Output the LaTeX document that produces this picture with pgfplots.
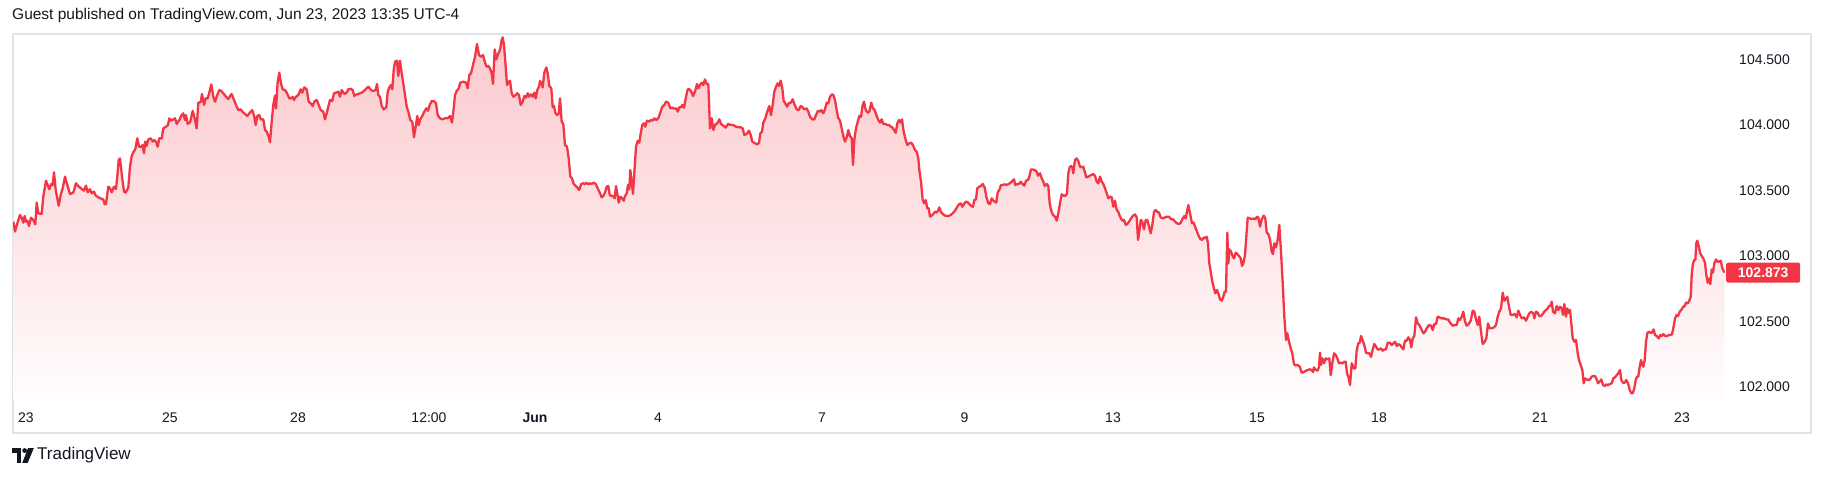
\documentclass[border=0pt]{standalone}
\usepackage{fontspec}
\setmainfont{Liberation Sans}
\usepackage{pgfplots}
\pgfplotsset{compat=1.18}
\usepackage{pgfplotstable}

\definecolor{tvred}{HTML}{F23645}
\definecolor{tvtext}{HTML}{131722}
\definecolor{tvframe}{HTML}{E0E3EB}

% x = bar position (pixels along the time scale), y = price
\pgfplotstableread{
x y
13.3 103.262
15.0 103.186
17.3 103.249
20.0 103.313
22.0 103.287
23.3 103.254
24.7 103.305
26.0 103.262
27.3 103.270
29.0 103.229
31.0 103.293
33.3 103.275
35.3 103.242
36.7 103.407
38.3 103.326
41.7 103.321
43.3 103.453
46.0 103.575
49.3 103.509
51.3 103.550
52.7 103.542
54.0 103.639
55.7 103.504
58.7 103.384
60.7 103.466
62.7 103.517
65.0 103.606
67.3 103.542
70.0 103.473
73.3 103.484
76.0 103.555
78.3 103.534
81.7 103.512
84.0 103.499
86.0 103.537
87.7 103.486
90.0 103.509
91.7 103.478
94.0 103.491
95.7 103.461
98.3 103.448
101.7 103.435
103.3 103.433
104.7 103.394
106.0 103.397
108.3 103.529
110.0 103.517
111.7 103.486
114.0 103.529
116.0 103.512
117.3 103.606
118.7 103.733
120.0 103.745
122.0 103.606
124.0 103.491
125.7 103.484
128.3 103.522
130.0 103.682
131.7 103.763
133.3 103.791
135.3 103.814
137.3 103.898
139.0 103.834
141.0 103.834
142.7 103.847
144.0 103.784
145.3 103.873
146.7 103.840
148.3 103.890
150.7 103.898
152.7 103.873
154.3 103.885
156.0 103.873
157.7 103.834
159.3 103.898
161.7 103.898
163.3 103.974
166.0 103.987
168.0 104.000
169.3 104.051
171.0 104.033
173.3 104.043
175.0 104.051
176.7 104.008
179.3 104.038
181.7 104.076
183.3 104.089
185.0 104.038
186.0 104.076
187.7 104.008
190.0 104.020
192.7 104.107
194.3 104.063
196.7 103.974
198.3 104.170
200.7 104.175
202.0 104.237
204.0 104.153
205.7 104.203
207.7 104.203
209.3 104.247
211.3 104.310
213.3 104.216
215.0 104.178
217.3 104.229
219.3 104.267
221.3 104.259
223.3 104.242
226.0 104.216
228.3 104.198
230.0 104.221
231.7 104.237
234.0 104.191
236.0 104.153
238.3 104.114
240.7 104.119
242.7 104.099
245.0 104.084
247.3 104.069
249.3 104.089
252.3 104.114
254.3 104.063
255.7 104.000
257.3 104.069
259.3 104.076
260.7 104.043
263.3 104.043
265.0 103.962
266.7 103.949
268.7 103.911
270.0 103.868
271.7 104.025
273.3 104.153
275.0 104.224
276.0 104.127
277.7 104.331
279.3 104.399
281.0 104.318
282.7 104.272
285.0 104.267
286.7 104.247
289.3 104.203
291.0 104.203
292.7 104.216
294.0 104.191
296.0 104.216
298.3 104.229
300.7 104.272
302.3 104.247
304.3 104.287
306.7 104.272
308.7 104.178
310.7 104.165
312.7 104.145
314.3 104.178
316.7 104.191
318.7 104.153
320.7 104.114
323.3 104.102
325.0 104.043
326.7 104.089
328.3 104.140
330.0 104.191
332.3 104.183
334.0 104.242
336.0 104.247
338.3 104.254
340.0 104.216
341.7 104.267
344.3 104.237
346.7 104.247
348.3 104.272
350.7 104.277
352.7 104.267
354.3 104.221
355.0 104.229
358.3 104.237
361.7 104.247
365.0 104.267
368.3 104.292
371.0 104.267
373.3 104.259
375.7 104.267
377.0 104.313
378.3 104.229
380.0 104.216
381.7 104.145
383.7 104.119
386.3 104.135
387.7 104.254
389.3 104.287
391.0 104.305
392.3 104.272
393.7 104.420
395.0 104.483
397.0 104.491
398.3 104.374
400.0 104.491
401.7 104.394
403.3 104.318
405.0 104.229
406.7 104.140
408.3 104.102
410.3 104.038
412.3 104.025
414.0 103.906
415.7 103.987
417.3 104.069
418.7 104.000
420.3 104.043
422.3 104.069
424.3 104.102
426.3 104.127
428.0 104.109
429.7 104.153
431.7 104.183
434.0 104.181
436.0 104.165
437.7 104.076
440.0 104.051
442.3 104.043
445.0 104.051
447.7 104.051
450.0 104.069
452.0 104.018
453.7 104.127
455.0 104.229
456.7 104.259
458.7 104.280
460.3 104.323
463.3 104.331
466.0 104.323
467.7 104.280
469.3 104.382
471.0 104.394
473.0 104.458
475.0 104.521
477.0 104.618
479.0 104.534
481.0 104.521
483.0 104.534
485.0 104.476
486.7 104.445
488.7 104.450
490.3 104.425
491.7 104.394
493.0 104.313
494.7 104.577
496.3 104.501
498.3 104.547
500.0 104.572
501.7 104.649
502.7 104.669
504.0 104.611
505.7 104.445
507.0 104.305
508.3 104.323
510.0 104.338
511.7 104.242
513.3 104.216
515.7 104.229
517.3 104.242
519.0 104.229
520.7 104.153
522.7 104.178
524.3 104.221
526.0 104.209
527.7 104.242
529.0 104.216
531.0 104.234
532.7 104.216
534.3 104.247
535.7 104.203
537.3 104.267
539.0 104.292
540.0 104.336
541.7 104.313
542.7 104.287
544.3 104.399
546.3 104.440
547.7 104.394
549.3 104.298
551.3 104.280
552.7 104.135
554.0 104.145
555.3 104.094
557.0 104.076
558.7 104.084
560.0 104.203
561.7 104.025
563.3 104.008
565.0 103.847
567.0 103.834
568.7 103.745
570.3 103.606
572.0 103.593
573.7 103.550
575.7 103.534
577.3 103.522
579.3 103.504
581.0 103.547
583.0 103.555
585.0 103.550
586.7 103.560
588.3 103.547
590.0 103.555
591.7 103.550
593.7 103.560
595.7 103.550
597.7 103.517
599.3 103.491
601.7 103.448
603.3 103.458
605.0 103.484
606.7 103.529
608.3 103.534
609.7 103.466
611.3 103.458
613.0 103.458
614.7 103.440
616.0 103.534
617.3 103.478
618.7 103.407
620.3 103.453
622.0 103.440
623.7 103.422
625.0 103.458
626.7 103.478
628.0 103.542
629.3 103.509
630.3 103.656
631.7 103.567
633.0 103.473
634.3 103.631
636.0 103.834
637.7 103.880
639.3 103.865
640.7 103.936
642.3 104.000
644.0 104.013
645.3 103.987
647.0 104.033
649.0 104.025
651.0 104.038
652.7 104.033
654.3 104.051
656.3 104.038
658.3 104.051
660.3 104.094
662.0 104.135
664.3 104.153
666.0 104.178
668.3 104.170
670.3 104.127
672.3 104.132
674.3 104.125
676.3 104.127
677.7 104.102
679.3 104.135
681.0 104.135
682.3 104.153
684.0 104.132
685.7 104.203
687.7 104.272
689.7 104.272
691.7 104.247
693.0 104.221
695.0 104.254
697.0 104.313
698.3 104.280
700.0 104.305
701.7 104.323
703.3 104.305
705.0 104.348
706.7 104.313
708.3 104.313
710.0 103.974
711.7 104.051
713.3 103.962
715.0 104.000
717.3 104.013
719.3 104.043
721.0 104.008
723.3 103.995
725.7 103.980
728.0 104.008
730.7 104.000
733.3 104.000
736.0 103.987
738.3 103.982
740.7 103.982
742.7 103.974
744.3 103.924
746.7 103.931
749.0 103.957
750.7 103.924
752.3 103.873
755.0 103.860
757.3 103.852
759.0 103.865
760.3 103.936
762.0 103.949
763.3 104.018
765.3 104.051
767.3 104.102
769.3 104.145
771.0 104.076
772.7 104.153
774.3 104.254
776.0 104.292
777.7 104.318
779.0 104.298
780.7 104.338
782.3 104.280
783.7 104.183
785.3 104.165
787.0 104.140
788.7 104.165
790.7 104.170
792.7 104.196
794.7 104.153
796.7 104.119
798.7 104.114
800.7 104.145
802.7 104.135
804.3 104.119
806.7 104.127
808.3 104.102
810.0 104.063
812.3 104.043
814.3 104.043
816.0 104.076
818.0 104.109
820.0 104.102
821.3 104.114
823.3 104.089
825.0 104.119
826.7 104.170
828.3 104.165
830.0 104.216
832.0 104.234
833.3 104.229
835.0 104.191
836.7 104.114
838.0 104.058
840.0 104.033
841.7 103.974
843.3 103.916
845.0 103.873
846.7 103.906
848.3 103.962
850.0 103.916
851.7 103.898
853.0 103.695
854.3 103.885
856.0 103.974
857.7 104.025
859.3 104.069
861.0 104.063
862.7 104.153
864.0 104.178
865.7 104.114
867.7 104.094
869.3 104.102
871.3 104.170
873.0 104.127
874.7 104.114
876.7 104.069
878.3 104.038
880.0 104.018
881.7 104.043
883.3 104.008
885.3 104.008
887.3 104.000
889.0 104.000
890.7 103.987
892.3 103.982
894.0 103.962
895.7 103.941
897.3 104.013
899.0 104.038
900.7 104.018
902.0 104.043
903.7 103.949
905.7 103.885
907.3 103.847
909.3 103.860
911.3 103.865
913.3 103.840
915.0 103.809
916.7 103.796
918.3 103.745
919.3 103.656
921.0 103.567
922.7 103.427
924.3 103.402
925.7 103.427
927.3 103.364
928.7 103.364
930.0 103.300
931.7 103.308
933.3 103.321
935.0 103.338
936.7 103.331
938.0 103.346
939.3 103.371
940.7 103.338
942.7 103.321
945.0 103.308
948.3 103.305
950.7 103.313
952.7 103.326
955.0 103.346
957.3 103.376
959.3 103.397
960.7 103.402
962.3 103.376
964.3 103.402
966.0 103.415
967.7 103.410
969.3 103.397
971.3 103.382
973.0 103.376
974.3 103.427
976.0 103.433
977.3 103.517
979.3 103.529
981.0 103.534
982.7 103.550
984.7 103.522
986.3 103.453
988.3 103.402
990.0 103.397
991.7 103.440
993.3 103.422
994.7 103.415
996.3 103.407
997.7 103.486
999.3 103.504
1001.0 103.542
1002.7 103.542
1004.7 103.547
1006.7 103.542
1008.7 103.550
1010.7 103.560
1012.7 103.575
1014.0 103.585
1015.3 103.542
1017.3 103.550
1019.0 103.550
1020.7 103.567
1022.3 103.550
1024.3 103.537
1026.0 103.575
1028.0 103.580
1029.3 103.606
1031.0 103.661
1032.7 103.661
1034.7 103.656
1036.7 103.644
1038.0 103.613
1040.0 103.631
1041.7 103.593
1043.3 103.567
1044.7 103.534
1046.7 103.550
1048.3 103.534
1049.7 103.402
1051.0 103.351
1053.0 103.313
1055.0 103.300
1056.7 103.270
1058.3 103.326
1060.0 103.402
1061.7 103.471
1063.3 103.461
1065.7 103.461
1067.0 103.478
1068.3 103.631
1069.7 103.677
1071.0 103.687
1072.3 103.677
1073.3 103.631
1075.0 103.733
1076.7 103.745
1078.3 103.725
1080.0 103.682
1081.7 103.677
1083.3 103.682
1085.0 103.636
1086.3 103.600
1088.3 103.606
1091.0 103.618
1093.3 103.626
1095.0 103.611
1096.7 103.567
1098.3 103.555
1100.0 103.606
1101.7 103.567
1103.3 103.550
1105.0 103.517
1106.7 103.478
1108.3 103.440
1110.0 103.453
1111.7 103.448
1113.3 103.376
1115.0 103.422
1116.7 103.351
1118.3 103.338
1120.0 103.300
1122.3 103.270
1124.0 103.275
1125.7 103.237
1127.3 103.244
1129.0 103.262
1131.0 103.287
1132.7 103.305
1135.0 103.318
1136.7 103.295
1138.0 103.122
1139.3 103.186
1140.7 103.275
1142.3 103.262
1144.0 103.203
1145.7 103.275
1147.3 103.275
1149.0 103.224
1150.7 103.173
1152.3 103.237
1154.0 103.338
1155.7 103.351
1157.3 103.338
1159.0 103.331
1160.7 103.295
1162.7 103.287
1165.0 103.295
1167.0 103.300
1169.0 103.300
1171.0 103.280
1173.0 103.280
1175.0 103.262
1177.0 103.249
1179.0 103.244
1180.7 103.254
1182.3 103.280
1184.3 103.305
1185.7 103.287
1187.0 103.338
1188.3 103.389
1189.3 103.351
1190.7 103.300
1192.0 103.249
1193.7 103.254
1195.3 103.219
1197.0 103.186
1198.7 103.153
1200.3 103.130
1202.0 103.122
1203.7 103.142
1205.3 103.135
1206.7 103.147
1208.0 103.097
1209.3 102.944
1210.7 102.880
1212.3 102.804
1214.0 102.753
1215.3 102.715
1217.0 102.740
1218.3 102.715
1220.0 102.669
1221.7 102.659
1223.3 102.689
1224.7 102.728
1226.0 102.728
1227.3 103.178
1228.3 102.944
1229.3 103.051
1231.0 103.033
1232.7 102.995
1234.0 102.982
1235.7 103.025
1237.3 103.015
1239.0 103.000
1240.7 102.982
1242.0 102.924
1243.3 102.944
1245.0 103.008
1246.3 103.147
1247.7 103.293
1249.7 103.287
1251.7 103.282
1253.7 103.287
1255.3 103.280
1257.0 103.300
1258.3 103.295
1260.0 103.224
1261.7 103.280
1263.7 103.308
1265.3 103.287
1266.7 103.178
1268.3 103.168
1270.0 103.127
1271.7 103.033
1273.0 103.015
1274.3 103.097
1276.0 103.066
1277.7 103.127
1279.3 103.237
1281.0 103.033
1282.7 102.791
1284.3 102.537
1286.0 102.359
1287.3 102.410
1289.0 102.346
1290.7 102.295
1292.3 102.257
1294.0 102.173
1295.7 102.165
1297.7 102.168
1299.7 102.155
1301.7 102.109
1303.7 102.114
1305.7 102.122
1307.7 102.130
1309.7 102.135
1311.7 102.130
1313.0 102.114
1314.0 102.150
1315.7 102.130
1317.7 102.125
1319.0 102.155
1320.0 102.262
1321.0 102.168
1322.3 102.219
1324.0 102.181
1325.7 102.219
1327.7 102.211
1329.3 102.219
1330.7 102.091
1332.3 102.181
1334.0 102.257
1335.7 102.244
1337.3 102.219
1339.0 102.181
1340.7 102.186
1342.7 102.181
1344.3 102.193
1345.7 102.193
1347.0 102.104
1348.3 102.079
1350.0 102.015
1351.7 102.181
1353.7 102.142
1355.3 102.142
1356.7 102.282
1358.3 102.333
1359.7 102.338
1361.0 102.389
1362.7 102.354
1364.3 102.320
1366.0 102.262
1367.7 102.257
1369.3 102.257
1371.0 102.231
1372.7 102.287
1374.3 102.328
1376.0 102.308
1377.7 102.287
1379.3 102.287
1381.0 102.295
1382.7 102.277
1384.3 102.287
1386.0 102.287
1387.7 102.338
1389.3 102.338
1390.0 102.338
1391.7 102.320
1393.3 102.333
1395.0 102.346
1396.7 102.313
1398.3 102.328
1400.0 102.320
1401.7 102.303
1403.3 102.287
1405.0 102.354
1406.7 102.354
1408.3 102.379
1410.0 102.359
1411.3 102.303
1412.7 102.371
1414.3 102.389
1416.0 102.532
1417.7 102.486
1419.3 102.473
1421.0 102.448
1423.3 102.410
1425.0 102.422
1426.7 102.448
1429.0 102.473
1431.0 102.468
1432.7 102.435
1434.3 102.481
1436.0 102.481
1437.7 102.537
1439.3 102.532
1441.7 102.524
1444.0 102.524
1446.7 102.516
1448.3 102.516
1450.0 102.491
1452.7 102.468
1455.0 102.473
1456.7 102.473
1458.3 102.524
1460.0 102.511
1461.7 102.537
1463.3 102.575
1465.0 102.499
1466.7 102.468
1468.7 102.481
1470.7 102.506
1472.7 102.583
1474.3 102.575
1476.0 102.516
1477.7 102.473
1479.3 102.537
1481.0 102.422
1482.7 102.328
1484.7 102.346
1486.3 102.371
1488.0 102.486
1489.7 102.448
1491.7 102.448
1494.0 102.455
1496.0 102.473
1497.7 102.537
1499.3 102.575
1501.0 102.600
1502.7 102.720
1504.3 102.659
1505.7 102.669
1507.3 102.689
1509.0 102.613
1510.7 102.550
1512.7 102.550
1514.7 102.557
1516.7 102.532
1518.3 102.583
1520.0 102.550
1521.7 102.524
1524.0 102.532
1526.0 102.506
1527.7 102.537
1529.3 102.562
1531.3 102.575
1533.3 102.562
1534.3 102.524
1536.0 102.575
1537.7 102.567
1539.3 102.542
1541.0 102.542
1542.7 102.557
1544.3 102.575
1546.0 102.588
1547.7 102.600
1549.0 102.618
1550.3 102.618
1551.7 102.651
1553.0 102.575
1555.0 102.562
1556.7 102.618
1558.3 102.588
1560.0 102.613
1561.7 102.600
1563.0 102.550
1564.3 102.633
1566.0 102.537
1567.3 102.600
1568.7 102.567
1570.0 102.588
1571.3 102.486
1572.7 102.371
1574.3 102.346
1576.0 102.359
1577.7 102.257
1579.0 102.206
1580.7 102.168
1582.3 102.130
1583.7 102.028
1585.0 102.066
1586.7 102.058
1588.3 102.053
1590.0 102.058
1591.7 102.079
1593.3 102.084
1594.7 102.084
1596.3 102.066
1598.0 102.028
1599.7 102.041
1601.3 102.058
1603.0 102.015
1604.7 102.008
1606.3 102.020
1608.0 102.015
1610.0 102.023
1611.7 102.028
1613.3 102.066
1615.0 102.074
1616.7 102.091
1618.3 102.104
1620.0 102.130
1621.3 102.053
1623.0 102.033
1624.7 102.033
1626.3 102.053
1628.0 102.028
1629.7 101.977
1631.3 101.952
1632.7 101.952
1634.3 101.990
1635.7 102.053
1637.0 102.079
1638.3 102.079
1639.7 102.155
1641.0 102.206
1642.3 102.168
1643.3 102.155
1644.7 102.206
1646.0 102.346
1647.3 102.410
1648.7 102.422
1650.3 102.415
1652.0 102.415
1653.7 102.440
1655.0 102.397
1656.7 102.389
1658.7 102.371
1660.3 102.397
1661.7 102.389
1663.3 102.404
1665.3 102.389
1667.0 102.389
1668.7 102.397
1670.3 102.397
1672.0 102.404
1673.3 102.448
1675.0 102.524
1676.7 102.550
1678.0 102.542
1679.7 102.575
1681.3 102.588
1683.3 102.613
1684.7 102.618
1686.0 102.644
1687.7 102.638
1689.3 102.659
1690.7 102.689
1691.7 102.855
1692.7 102.931
1694.0 102.969
1695.3 102.969
1696.3 103.097
1697.3 103.117
1698.7 103.076
1700.0 103.025
1701.7 103.000
1703.3 102.982
1705.0 102.949
1706.3 102.855
1707.7 102.796
1709.0 102.829
1710.3 102.786
1711.7 102.898
1713.0 102.873
1714.3 102.944
1716.0 102.974
1717.3 102.957
1719.0 102.957
1720.7 102.964
1722.3 102.906
1724.3 102.873
}\dxy

\begin{document}
\begin{tikzpicture}[x=1pt,y=1pt]
\useasboundingbox (0,0) rectangle (1824,478);
\fill[white] (0,0) rectangle (1824,478);

% header and footer
\node[anchor=west, inner sep=0pt, text=tvtext, font=\fontsize{15.5}{17}\selectfont]
  at (12,462) {Guest published on TradingView.com, Jun 23, 2023 13:35 UTC-4};
\draw[tvframe, line width=1.5pt] (13,45) rectangle (1811,444);
\begin{scope}[shift={(12,15)}, scale=1.15]
\fill[tvtext] (0,9) rectangle (8,13);
\fill[tvtext] (4.2,0) rectangle (8,13);
\fill[tvtext] (11,10.8) circle (2.1);
\fill[tvtext] (14,13) -- (19,13) -- (13.6,0) -- (8.9,0) -- cycle;
\end{scope}
\node[anchor=west, inner sep=0pt, text=tvtext, font=\fontsize{17}{19}\selectfont]
  at (37,22.5) {TradingView};

\begin{axis}[
  at={(13pt,78pt)}, anchor=south west,
  width=1712pt, height=365pt, scale only axis,
  xmin=13, xmax=1725,
  ymin=101.9008, ymax=104.687,
  axis line style={draw=none},
  major tick length=0pt,
  xtick={25.8,170,298,429,535,658,822,964.5,1113,1257,1379,1540,1682},
  xticklabels={23,25,28,12:00,\textbf{Jun},4,7,9,13,15,18,21,23},
  xticklabel style={anchor=center, yshift=-18pt, text=tvtext,
    font=\fontsize{14}{16}\selectfont},
  ytick={102,102.5,103,103.5,104,104.5},
  yticklabel pos=right,
  scaled y ticks=false,
  yticklabel style={/pgf/number format/fixed,
    /pgf/number format/fixed zerofill,
    /pgf/number format/precision=3,
    /pgf/number format/assume math mode=true},
  yticklabel style={anchor=west, inner xsep=14pt, inner ysep=0pt, text=tvtext,
    font=\fontsize{14}{16}\selectfont},
  extra y ticks={102.873},
  extra y tick style={yticklabel style={fill=tvred, text=white,
    font=\fontsize{14}{16}\selectfont\bfseries, inner xsep=0pt,
    minimum width=74pt, minimum height=20pt, xshift=1pt,
    rounded corners=1.5pt}},
]
\addplot[draw=none, top color=tvred!27!white, bottom color=tvred!1!white]
  table[x=x, y=y] {\dxy} \closedcycle;
\addplot[tvred, line width=2.3pt, line join=round] table[x=x, y=y] {\dxy};
\end{axis}
\end{tikzpicture}
\end{document}
